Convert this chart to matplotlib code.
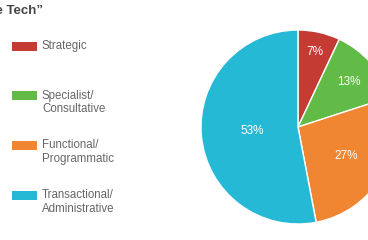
import matplotlib
matplotlib.use("Agg")
import matplotlib.pyplot as plt
import numpy as np

categories = ["Strategic", "Specialist/\nConsultative", "Functional/\nProgrammatic", "Transactional/\nAdministrative"]
values = [7, 13, 27, 53]
colors = ["#c43b33", "#62bb47", "#f08532", "#25b9d6"]
title = "\u201cRole of the Tech\u201d"

W, H = 368, 240
fig = plt.figure(figsize=(W/100, H/100), dpi=100)
plt.rcParams['font.family'] = ['Liberation Sans', 'DejaVu Sans']

# pie axes: center (298,127) px, radius 97
cx, cy, r = 298, 127, 97
ax = fig.add_axes([(cx - r)/W, (H - cy - r)/H, 2*r/W, 2*r/H])
wedges, texts, autotexts = ax.pie(values, colors=colors, startangle=90, counterclock=False,
                                  radius=1, autopct=lambda p: f"{p:.0f}%",
                                  wedgeprops=dict(edgecolor="white", linewidth=1),
                                  textprops=dict(color="white", fontsize=8.5))
label_dist = [0.79, 0.70, 0.58, 0.47]
for w, t, d in zip(wedges, autotexts, label_dist):
    ang = np.deg2rad((w.theta1 + w.theta2) / 2)
    t.set_position((d*np.cos(ang), d*np.sin(ang)))
ax.set_xlim(-1, 1)
ax.set_ylim(-1, 1)
ax.set_aspect('equal')
ax.axis('off')

# title (partially off-canvas, as in the reference)
fig.text(43/W, 1 - 11/H, title, ha='right', va='center', fontsize=9.5,
         fontweight='bold', color='#444444')

# legend
box_y = [46, 95.5, 145.5, 195.5]
for lab, col, y in zip(categories, colors, box_y):
    fig.patches.append(plt.Rectangle((12/W, 1 - (y + 4.5)/H), 25/W, 9/H,
                                     transform=fig.transFigure, facecolor=col, edgecolor='none'))
    fig.text(42/W, 1 - (y - 6)/H, lab, ha='left', va='top', fontsize=8.3,
             color='#666666', linespacing=1.12)

fig.savefig("out.png", dpi=100)
